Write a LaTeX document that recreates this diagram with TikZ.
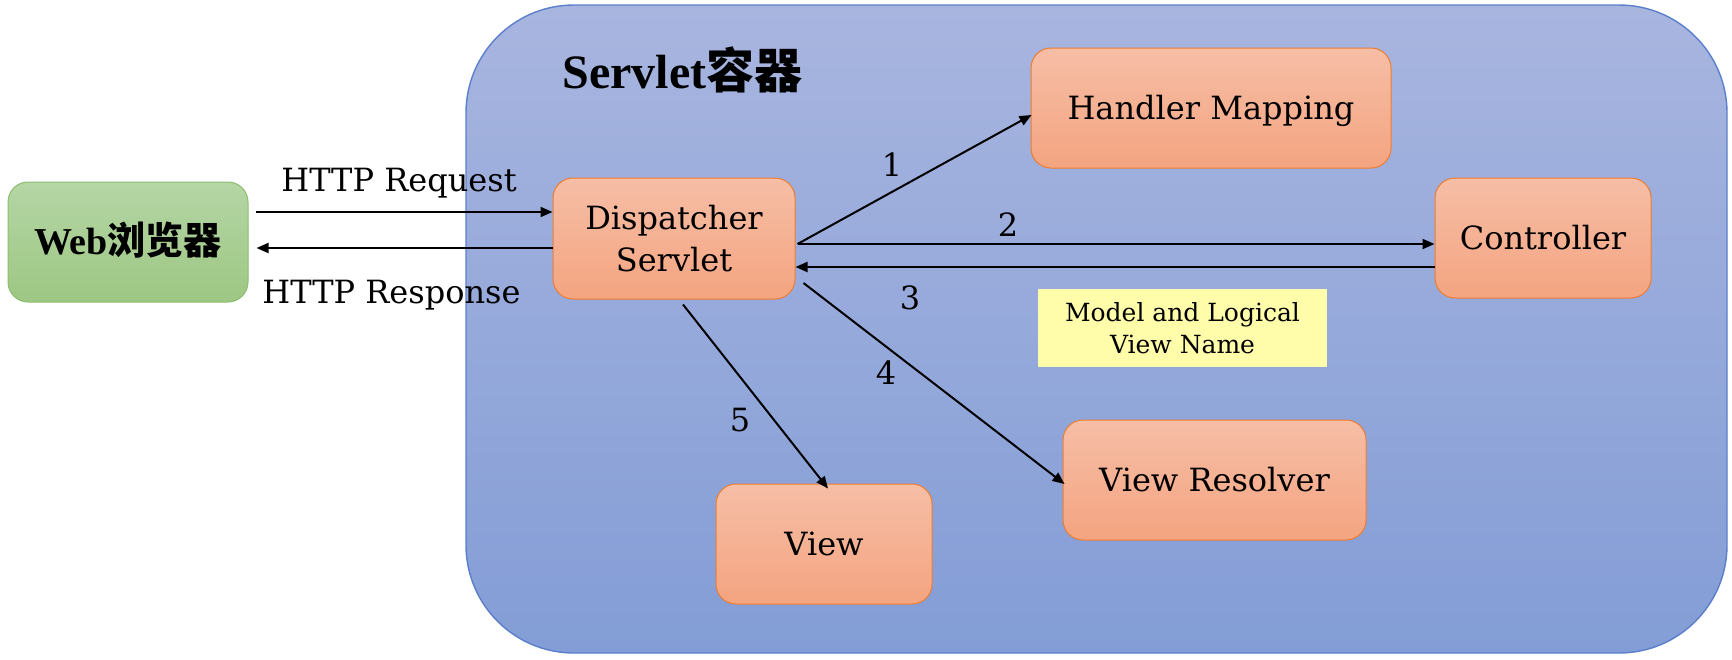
\documentclass[tikz,border=0pt]{standalone}
\usepackage{fontspec}
\setmainfont{DejaVu Serif}
\newfontfamily\titlefont{Liberation Serif}
\newfontfamily\cjk{Noto Sans CJK SC}
\usetikzlibrary{arrows.meta}
\definecolor{contTop}{RGB}{168,181,223}
\definecolor{contBot}{RGB}{131,157,214}
\definecolor{contEdge}{RGB}{91,127,204}
\definecolor{orTop}{RGB}{246,190,166}
\definecolor{orBot}{RGB}{244,164,128}
\definecolor{orEdge}{RGB}{237,125,49}
\definecolor{grTop}{RGB}{181,214,165}
\definecolor{grBot}{RGB}{157,199,131}
\definecolor{grEdge}{RGB}{140,190,110}
\definecolor{noteFill}{RGB}{255,252,170}
\begin{document}
\begin{tikzpicture}[x=0.5pt,y=-0.5pt,
  container/.style={draw=contEdge, line width=0.7pt, top color=contTop, bottom color=contBot,
    rounded corners=54pt, minimum width=630.5pt, minimum height=324pt, inner sep=0pt},
  orbox/.style={draw=orEdge, line width=0.5pt, top color=orTop, bottom color=orBot,
    rounded corners=10pt, inner sep=0pt, align=center, font=\fontsize{16}{21}\selectfont},
  oneline/.style={text height=11.6pt, text depth=0pt},
  grbox/.style={draw=grEdge, line width=0.5pt, top color=grTop, bottom color=grBot,
    rounded corners=10pt, inner sep=0pt, minimum width=120pt, minimum height=60pt,
    font=\titlefont\bfseries\fontsize{19}{23}\selectfont, text height=12.6pt, text depth=0pt},
  note/.style={fill=noteFill, inner sep=0pt, align=center, minimum width=144.5pt,
    minimum height=39pt, font=\fontsize{12.5}{16}\selectfont},
  lbl/.style={inner sep=0pt, font=\fontsize{16}{19}\selectfont},
  num/.style={inner sep=0pt, font=\fontsize{16}{19}\selectfont, text height=11.6pt, text depth=0pt},
  arr/.style={line width=1pt, -{Triangle[length=6pt,width=5pt]}},
]
\useasboundingbox (0,0) rectangle (1732,659);
% container
\node[container] (sc) at (1096.5,329) {};
\node[anchor=base west, inner sep=0pt, font=\titlefont\bfseries\fontsize{24}{28}\selectfont] (title) at (562,88) {Servlet{\cjk\bfseries 容器}};
% boxes
\node[grbox] (web) at (128,242) {Web{\cjk\bfseries 浏览器}};
\node[orbox, minimum width=121pt, minimum height=60.5pt] (disp) at (674,238.5) {Dispatcher\\Servlet};
\node[orbox, oneline, minimum width=180pt, minimum height=60pt] (hm) at (1211,108) {Handler Mapping};
\node[orbox, oneline, minimum width=108pt, minimum height=60pt] (ctrl) at (1543,238) {Controller};
\node[orbox, oneline, minimum width=151.5pt, minimum height=60pt] (vr) at (1214.5,480) {View Resolver};
\node[orbox, oneline, minimum width=108pt, minimum height=60pt] (view) at (824,544) {View};
\node[note] (mlv) at (1182.5,328) {Model and Logical\\View Name};
% labels
\node[lbl, anchor=base] (req) at (399,191) {HTTP Request};
\node[lbl, anchor=base] (resp) at (391.5,303) {HTTP Response};
\node[num] (n1) at (892,165) {1};
\node[num] (n2) at (1008,225) {2};
\node[num] (n3) at (910,298) {3};
\node[num] (n4) at (886,373) {4};
\node[num] (n5) at (740,420) {5};
% connectors
\draw[arr] ([shift={(7,-30)}]web.east) -- ([shift={(0,-26.5)}]disp.west);
\draw[arr] ([shift={(0,9.5)}]disp.west) -- ([shift={(8,6)}]web.east);
\draw[arr] ([shift={(2,5.5)}]disp.east) -- ([shift={(1,7)}]hm.west);
\draw[arr] ([shift={(2,5.5)}]disp.east) -- ([shift={(0,6)}]ctrl.west);
\draw[arr] ([shift={(0,29)}]ctrl.west) -- ([shift={(0,28.5)}]disp.east);
\draw[arr] ([shift={(8,44.5)}]disp.east) -- ([shift={(2,4)}]vr.west);
\draw[arr] ([shift={(9,5)}]disp.south) -- ([shift={(4,5)}]view.north);
\end{tikzpicture}
\end{document}
